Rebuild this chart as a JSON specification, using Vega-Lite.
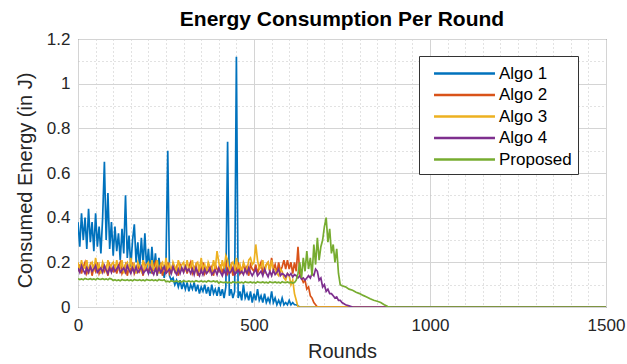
{
  "$schema": "https://vega.github.io/schema/vega-lite/v6.json",
  "width": 528,
  "height": 268,
  "autosize": {"type": "none"},
  "padding": {"left": 78, "top": 39, "right": 21, "bottom": 57},
  "background": "white",
  "config": {
    "font": "Liberation Sans",
    "view": {"stroke": "#404040", "strokeWidth": 1}
  },
  "title": {
    "text": "Energy Consumption Per Round",
    "font": "Liberation Sans",
    "fontSize": 21,
    "fontWeight": "bold",
    "color": "#000000",
    "anchor": "middle",
    "baseline": "alphabetic",
    "offset": 13,
    "dy": 30
  },
  "data": {
    "values": [
      {"r":0,"Algo 1":0.38,"Algo 2":0.16,"Algo 3":0.20,"Algo 4":0.175,"Proposed":0.127},
      {"r":5,"Algo 1":0.27,"Algo 2":0.19,"Algo 3":0.16,"Algo 4":0.155,"Proposed":0.123},
      {"r":10,"Algo 1":0.42,"Algo 2":0.15,"Algo 3":0.21,"Algo 4":0.185,"Proposed":0.126},
      {"r":15,"Algo 1":0.30,"Algo 2":0.18,"Algo 3":0.17,"Algo 4":0.165,"Proposed":0.122},
      {"r":20,"Algo 1":0.40,"Algo 2":0.20,"Algo 3":0.18,"Algo 4":0.150,"Proposed":0.128},
      {"r":25,"Algo 1":0.26,"Algo 2":0.15,"Algo 3":0.21,"Algo 4":0.175,"Proposed":0.125},
      {"r":30,"Algo 1":0.44,"Algo 2":0.17,"Algo 3":0.15,"Algo 4":0.155,"Proposed":0.124},
      {"r":35,"Algo 1":0.29,"Algo 2":0.19,"Algo 3":0.19,"Algo 4":0.180,"Proposed":0.127},
      {"r":40,"Algo 1":0.38,"Algo 2":0.14,"Algo 3":0.20,"Algo 4":0.160,"Proposed":0.123},
      {"r":45,"Algo 1":0.25,"Algo 2":0.18,"Algo 3":0.16,"Algo 4":0.170,"Proposed":0.126},
      {"r":50,"Algo 1":0.42,"Algo 2":0.16,"Algo 3":0.22,"Algo 4":0.185,"Proposed":0.122},
      {"r":55,"Algo 1":0.27,"Algo 2":0.20,"Algo 3":0.17,"Algo 4":0.155,"Proposed":0.128},
      {"r":60,"Algo 1":0.36,"Algo 2":0.15,"Algo 3":0.19,"Algo 4":0.165,"Proposed":0.125},
      {"r":65,"Algo 1":0.24,"Algo 2":0.17,"Algo 3":0.15,"Algo 4":0.175,"Proposed":0.124},
      {"r":70,"Algo 1":0.40,"Algo 2":0.19,"Algo 3":0.20,"Algo 4":0.155,"Proposed":0.127},
      {"r":75,"Algo 1":0.65,"Algo 2":0.16,"Algo 3":0.18,"Algo 4":0.185,"Proposed":0.123},
      {"r":80,"Algo 1":0.30,"Algo 2":0.18,"Algo 3":0.16,"Algo 4":0.165,"Proposed":0.126},
      {"r":85,"Algo 1":0.51,"Algo 2":0.14,"Algo 3":0.21,"Algo 4":0.150,"Proposed":0.122},
      {"r":90,"Algo 1":0.26,"Algo 2":0.19,"Algo 3":0.17,"Algo 4":0.175,"Proposed":0.128},
      {"r":95,"Algo 1":0.38,"Algo 2":0.17,"Algo 3":0.19,"Algo 4":0.155,"Proposed":0.125},
      {"r":100,"Algo 1":0.23,"Algo 2":0.16,"Algo 3":0.20,"Algo 4":0.180,"Proposed":0.119},
      {"r":105,"Algo 1":0.36,"Algo 2":0.19,"Algo 3":0.16,"Algo 4":0.160,"Proposed":0.122},
      {"r":110,"Algo 1":0.25,"Algo 2":0.15,"Algo 3":0.21,"Algo 4":0.170,"Proposed":0.118},
      {"r":115,"Algo 1":0.33,"Algo 2":0.18,"Algo 3":0.17,"Algo 4":0.185,"Proposed":0.121},
      {"r":120,"Algo 1":0.21,"Algo 2":0.20,"Algo 3":0.18,"Algo 4":0.155,"Proposed":0.117},
      {"r":125,"Algo 1":0.35,"Algo 2":0.15,"Algo 3":0.21,"Algo 4":0.165,"Proposed":0.123},
      {"r":130,"Algo 1":0.24,"Algo 2":0.17,"Algo 3":0.15,"Algo 4":0.175,"Proposed":0.120},
      {"r":135,"Algo 1":0.50,"Algo 2":0.19,"Algo 3":0.19,"Algo 4":0.155,"Proposed":0.119},
      {"r":140,"Algo 1":0.22,"Algo 2":0.14,"Algo 3":0.20,"Algo 4":0.185,"Proposed":0.122},
      {"r":145,"Algo 1":0.32,"Algo 2":0.18,"Algo 3":0.16,"Algo 4":0.165,"Proposed":0.118},
      {"r":150,"Algo 1":0.18,"Algo 2":0.16,"Algo 3":0.22,"Algo 4":0.150,"Proposed":0.121},
      {"r":155,"Algo 1":0.30,"Algo 2":0.20,"Algo 3":0.17,"Algo 4":0.175,"Proposed":0.117},
      {"r":160,"Algo 1":0.37,"Algo 2":0.15,"Algo 3":0.19,"Algo 4":0.155,"Proposed":0.123},
      {"r":165,"Algo 1":0.20,"Algo 2":0.17,"Algo 3":0.15,"Algo 4":0.180,"Proposed":0.120},
      {"r":170,"Algo 1":0.29,"Algo 2":0.19,"Algo 3":0.20,"Algo 4":0.155,"Proposed":0.119},
      {"r":175,"Algo 1":0.17,"Algo 2":0.16,"Algo 3":0.18,"Algo 4":0.165,"Proposed":0.122},
      {"r":180,"Algo 1":0.31,"Algo 2":0.18,"Algo 3":0.16,"Algo 4":0.180,"Proposed":0.118},
      {"r":185,"Algo 1":0.19,"Algo 2":0.14,"Algo 3":0.21,"Algo 4":0.150,"Proposed":0.121},
      {"r":190,"Algo 1":0.33,"Algo 2":0.19,"Algo 3":0.17,"Algo 4":0.160,"Proposed":0.117},
      {"r":195,"Algo 1":0.17,"Algo 2":0.17,"Algo 3":0.19,"Algo 4":0.170,"Proposed":0.123},
      {"r":200,"Algo 1":0.26,"Algo 2":0.16,"Algo 3":0.20,"Algo 4":0.150,"Proposed":0.120},
      {"r":205,"Algo 1":0.15,"Algo 2":0.19,"Algo 3":0.16,"Algo 4":0.180,"Proposed":0.119},
      {"r":210,"Algo 1":0.27,"Algo 2":0.15,"Algo 3":0.21,"Algo 4":0.160,"Proposed":0.122},
      {"r":215,"Algo 1":0.16,"Algo 2":0.18,"Algo 3":0.17,"Algo 4":0.145,"Proposed":0.118},
      {"r":220,"Algo 1":0.24,"Algo 2":0.20,"Algo 3":0.18,"Algo 4":0.170,"Proposed":0.121},
      {"r":225,"Algo 1":0.14,"Algo 2":0.15,"Algo 3":0.21,"Algo 4":0.150,"Proposed":0.117},
      {"r":230,"Algo 1":0.22,"Algo 2":0.17,"Algo 3":0.15,"Algo 4":0.175,"Proposed":0.123},
      {"r":235,"Algo 1":0.15,"Algo 2":0.19,"Algo 3":0.19,"Algo 4":0.155,"Proposed":0.120},
      {"r":240,"Algo 1":0.18,"Algo 2":0.14,"Algo 3":0.20,"Algo 4":0.165,"Proposed":0.119},
      {"r":245,"Algo 1":0.13,"Algo 2":0.18,"Algo 3":0.16,"Algo 4":0.180,"Proposed":0.122},
      {"r":250,"Algo 1":0.20,"Algo 2":0.16,"Algo 3":0.22,"Algo 4":0.150,"Proposed":0.113},
      {"r":255,"Algo 1":0.70,"Algo 2":0.20,"Algo 3":0.17,"Algo 4":0.160,"Proposed":0.116},
      {"r":260,"Algo 1":0.14,"Algo 2":0.15,"Algo 3":0.19,"Algo 4":0.170,"Proposed":0.112},
      {"r":265,"Algo 1":0.12,"Algo 2":0.17,"Algo 3":0.15,"Algo 4":0.150,"Proposed":0.118},
      {"r":270,"Algo 1":0.13,"Algo 2":0.19,"Algo 3":0.20,"Algo 4":0.180,"Proposed":0.115},
      {"r":275,"Algo 1":0.10,"Algo 2":0.16,"Algo 3":0.18,"Algo 4":0.160,"Proposed":0.114},
      {"r":280,"Algo 1":0.12,"Algo 2":0.18,"Algo 3":0.16,"Algo 4":0.145,"Proposed":0.117},
      {"r":285,"Algo 1":0.09,"Algo 2":0.14,"Algo 3":0.21,"Algo 4":0.170,"Proposed":0.113},
      {"r":290,"Algo 1":0.12,"Algo 2":0.19,"Algo 3":0.17,"Algo 4":0.150,"Proposed":0.116},
      {"r":295,"Algo 1":0.08,"Algo 2":0.17,"Algo 3":0.19,"Algo 4":0.175,"Proposed":0.112},
      {"r":300,"Algo 1":0.11,"Algo 2":0.16,"Algo 3":0.20,"Algo 4":0.155,"Proposed":0.118},
      {"r":305,"Algo 1":0.08,"Algo 2":0.19,"Algo 3":0.16,"Algo 4":0.180,"Proposed":0.115},
      {"r":310,"Algo 1":0.11,"Algo 2":0.15,"Algo 3":0.21,"Algo 4":0.160,"Proposed":0.114},
      {"r":315,"Algo 1":0.07,"Algo 2":0.18,"Algo 3":0.17,"Algo 4":0.170,"Proposed":0.117},
      {"r":320,"Algo 1":0.10,"Algo 2":0.20,"Algo 3":0.18,"Algo 4":0.150,"Proposed":0.113},
      {"r":325,"Algo 1":0.08,"Algo 2":0.15,"Algo 3":0.21,"Algo 4":0.170,"Proposed":0.116},
      {"r":330,"Algo 1":0.11,"Algo 2":0.17,"Algo 3":0.15,"Algo 4":0.145,"Proposed":0.112},
      {"r":335,"Algo 1":0.07,"Algo 2":0.19,"Algo 3":0.19,"Algo 4":0.175,"Proposed":0.118},
      {"r":340,"Algo 1":0.10,"Algo 2":0.14,"Algo 3":0.20,"Algo 4":0.155,"Proposed":0.115},
      {"r":345,"Algo 1":0.06,"Algo 2":0.18,"Algo 3":0.16,"Algo 4":0.140,"Proposed":0.114},
      {"r":350,"Algo 1":0.09,"Algo 2":0.16,"Algo 3":0.22,"Algo 4":0.165,"Proposed":0.117},
      {"r":355,"Algo 1":0.07,"Algo 2":0.20,"Algo 3":0.17,"Algo 4":0.145,"Proposed":0.113},
      {"r":360,"Algo 1":0.10,"Algo 2":0.15,"Algo 3":0.19,"Algo 4":0.170,"Proposed":0.116},
      {"r":365,"Algo 1":0.06,"Algo 2":0.17,"Algo 3":0.15,"Algo 4":0.150,"Proposed":0.112},
      {"r":370,"Algo 1":0.09,"Algo 2":0.19,"Algo 3":0.20,"Algo 4":0.160,"Proposed":0.118},
      {"r":375,"Algo 1":0.05,"Algo 2":0.16,"Algo 3":0.18,"Algo 4":0.175,"Proposed":0.115},
      {"r":380,"Algo 1":0.10,"Algo 2":0.18,"Algo 3":0.16,"Algo 4":0.145,"Proposed":0.114},
      {"r":385,"Algo 1":0.06,"Algo 2":0.14,"Algo 3":0.21,"Algo 4":0.155,"Proposed":0.117},
      {"r":390,"Algo 1":0.08,"Algo 2":0.19,"Algo 3":0.17,"Algo 4":0.165,"Proposed":0.113},
      {"r":395,"Algo 1":0.05,"Algo 2":0.17,"Algo 3":0.25,"Algo 4":0.145,"Proposed":0.116},
      {"r":400,"Algo 1":0.09,"Algo 2":0.16,"Algo 3":0.20,"Algo 4":0.175,"Proposed":0.107},
      {"r":405,"Algo 1":0.05,"Algo 2":0.19,"Algo 3":0.16,"Algo 4":0.155,"Proposed":0.113},
      {"r":410,"Algo 1":0.08,"Algo 2":0.15,"Algo 3":0.21,"Algo 4":0.140,"Proposed":0.110},
      {"r":415,"Algo 1":0.04,"Algo 2":0.18,"Algo 3":0.17,"Algo 4":0.165,"Proposed":0.109},
      {"r":420,"Algo 1":0.09,"Algo 2":0.20,"Algo 3":0.23,"Algo 4":0.145,"Proposed":0.112},
      {"r":425,"Algo 1":0.74,"Algo 2":0.15,"Algo 3":0.21,"Algo 4":0.170,"Proposed":0.108},
      {"r":430,"Algo 1":0.05,"Algo 2":0.17,"Algo 3":0.15,"Algo 4":0.150,"Proposed":0.111},
      {"r":435,"Algo 1":0.08,"Algo 2":0.19,"Algo 3":0.19,"Algo 4":0.160,"Proposed":0.107},
      {"r":440,"Algo 1":0.04,"Algo 2":0.14,"Algo 3":0.20,"Algo 4":0.175,"Proposed":0.113},
      {"r":445,"Algo 1":0.07,"Algo 2":0.18,"Algo 3":0.16,"Algo 4":0.145,"Proposed":0.110},
      {"r":450,"Algo 1":1.12,"Algo 2":0.16,"Algo 3":0.22,"Algo 4":0.155,"Proposed":0.109},
      {"r":455,"Algo 1":0.04,"Algo 2":0.20,"Algo 3":0.17,"Algo 4":0.165,"Proposed":0.112},
      {"r":460,"Algo 1":0.07,"Algo 2":0.15,"Algo 3":0.19,"Algo 4":0.150,"Proposed":0.108},
      {"r":465,"Algo 1":0.03,"Algo 2":0.17,"Algo 3":0.15,"Algo 4":0.160,"Proposed":0.111},
      {"r":470,"Algo 1":0.10,"Algo 2":0.19,"Algo 3":0.20,"Algo 4":0.145,"Proposed":0.107},
      {"r":475,"Algo 1":0.04,"Algo 2":0.16,"Algo 3":0.18,"Algo 4":0.170,"Proposed":0.113},
      {"r":480,"Algo 1":0.06,"Algo 2":0.18,"Algo 3":0.16,"Algo 4":0.150,"Proposed":0.110},
      {"r":485,"Algo 1":0.03,"Algo 2":0.14,"Algo 3":0.21,"Algo 4":0.175,"Proposed":0.109},
      {"r":490,"Algo 1":0.07,"Algo 2":0.19,"Algo 3":0.22,"Algo 4":0.155,"Proposed":0.112},
      {"r":495,"Algo 1":0.02,"Algo 2":0.17,"Algo 3":0.19,"Algo 4":0.140,"Proposed":0.108},
      {"r":500,"Algo 1":0.06,"Algo 2":0.16,"Algo 3":0.20,"Algo 4":0.155,"Proposed":0.111},
      {"r":505,"Algo 1":0.03,"Algo 2":0.19,"Algo 3":0.28,"Algo 4":0.170,"Proposed":0.107},
      {"r":510,"Algo 1":0.08,"Algo 2":0.15,"Algo 3":0.21,"Algo 4":0.140,"Proposed":0.113},
      {"r":515,"Algo 1":0.03,"Algo 2":0.18,"Algo 3":0.17,"Algo 4":0.150,"Proposed":0.110},
      {"r":520,"Algo 1":0.05,"Algo 2":0.20,"Algo 3":0.18,"Algo 4":0.160,"Proposed":0.109},
      {"r":525,"Algo 1":0.02,"Algo 2":0.15,"Algo 3":0.21,"Algo 4":0.140,"Proposed":0.112},
      {"r":530,"Algo 1":0.06,"Algo 2":0.17,"Algo 3":0.15,"Algo 4":0.170,"Proposed":0.108},
      {"r":535,"Algo 1":0.02,"Algo 2":0.19,"Algo 3":0.19,"Algo 4":0.150,"Proposed":0.111},
      {"r":540,"Algo 1":0.04,"Algo 2":0.20,"Algo 3":0.20,"Algo 4":0.135,"Proposed":0.107},
      {"r":545,"Algo 1":0.02,"Algo 2":0.16,"Algo 3":0.16,"Algo 4":0.160,"Proposed":0.113},
      {"r":550,"Algo 1":0.07,"Algo 2":0.22,"Algo 3":0.21,"Algo 4":0.140,"Proposed":0.110},
      {"r":555,"Algo 1":0.02,"Algo 2":0.17,"Algo 3":0.17,"Algo 4":0.165,"Proposed":0.109},
      {"r":560,"Algo 1":0.04,"Algo 2":0.19,"Algo 3":0.17,"Algo 4":0.145,"Proposed":0.112},
      {"r":565,"Algo 1":0.01,"Algo 2":0.15,"Algo 3":0.15,"Algo 4":0.155,"Proposed":0.108},
      {"r":570,"Algo 1":0.03,"Algo 2":0.20,"Algo 3":0.14,"Algo 4":0.170,"Proposed":0.111},
      {"r":575,"Algo 1":0.01,"Algo 2":0.16,"Algo 3":0.17,"Algo 4":0.140,"Proposed":0.107},
      {"r":580,"Algo 1":0.04,"Algo 2":0.18,"Algo 3":0.16,"Algo 4":0.150,"Proposed":0.113},
      {"r":585,"Algo 1":0.01,"Algo 2":0.21,"Algo 3":0.13,"Algo 4":0.145,"Proposed":0.110},
      {"r":590,"Algo 1":0.02,"Algo 2":0.17,"Algo 3":0.12,"Algo 4":0.135,"Proposed":0.109},
      {"r":595,"Algo 1":0.01,"Algo 2":0.21,"Algo 3":0.15,"Algo 4":0.150,"Proposed":0.112},
      {"r":600,"Algo 1":0.03,"Algo 2":0.17,"Algo 3":0.14,"Algo 4":0.140,"Proposed":0.108},
      {"r":605,"Algo 1":0.01,"Algo 2":0.20,"Algo 3":0.10,"Algo 4":0.150,"Proposed":0.111},
      {"r":610,"Algo 1":0.02,"Algo 2":0.15,"Algo 3":0.12,"Algo 4":0.135,"Proposed":0.107},
      {"r":615,"Algo 1":0.01,"Algo 2":0.20,"Algo 3":0.06,"Algo 4":0.145,"Proposed":0.110},
      {"r":620,"Algo 1":0.01,"Algo 2":0.16,"Algo 3":0.03,"Algo 4":0.140,"Proposed":0.120},
      {"r":625,"Algo 1":0.005,"Algo 2":0.27,"Algo 3":0,"Algo 4":0.130,"Proposed":0.150},
      {"r":630,"Algo 1":0,"Algo 2":0.15,"Algo 3":0,"Algo 4":0.140,"Proposed":0.200},
      {"r":635,"Algo 1":0,"Algo 2":0.13,"Algo 3":0,"Algo 4":0.125,"Proposed":0.130},
      {"r":640,"Algo 1":0,"Algo 2":0.11,"Algo 3":0,"Algo 4":0.130,"Proposed":0.220},
      {"r":645,"Algo 1":0,"Algo 2":0.12,"Algo 3":0,"Algo 4":0.120,"Proposed":0.160},
      {"r":650,"Algo 1":0,"Algo 2":0.08,"Algo 3":0,"Algo 4":0.130,"Proposed":0.250},
      {"r":655,"Algo 1":0,"Algo 2":0.09,"Algo 3":0,"Algo 4":0.140,"Proposed":0.170},
      {"r":660,"Algo 1":0,"Algo 2":0.05,"Algo 3":0,"Algo 4":0.130,"Proposed":0.220},
      {"r":665,"Algo 1":0,"Algo 2":0.04,"Algo 3":0,"Algo 4":0.150,"Proposed":0.140},
      {"r":670,"Algo 1":0,"Algo 2":0.02,"Algo 3":0,"Algo 4":0.140,"Proposed":0.280},
      {"r":675,"Algo 1":0,"Algo 2":0.01,"Algo 3":0,"Algo 4":0.170,"Proposed":0.190},
      {"r":680,"Algo 1":0,"Algo 2":0,"Algo 3":0,"Algo 4":0.160,"Proposed":0.310},
      {"r":685,"Algo 1":0,"Algo 2":0,"Algo 3":0,"Algo 4":0.120,"Proposed":0.210},
      {"r":690,"Algo 1":0,"Algo 2":0,"Algo 3":0,"Algo 4":0.130,"Proposed":0.270},
      {"r":695,"Algo 1":0,"Algo 2":0,"Algo 3":0,"Algo 4":0.090,"Proposed":0.300},
      {"r":700,"Algo 1":0,"Algo 2":0,"Algo 3":0,"Algo 4":0.100,"Proposed":0.360},
      {"r":705,"Algo 1":0,"Algo 2":0,"Algo 3":0,"Algo 4":0.070,"Proposed":0.400},
      {"r":710,"Algo 1":0,"Algo 2":0,"Algo 3":0,"Algo 4":0.080,"Proposed":0.290},
      {"r":715,"Algo 1":0,"Algo 2":0,"Algo 3":0,"Algo 4":0.060,"Proposed":0.350},
      {"r":720,"Algo 1":0,"Algo 2":0,"Algo 3":0,"Algo 4":0.060,"Proposed":0.240},
      {"r":725,"Algo 1":0,"Algo 2":0,"Algo 3":0,"Algo 4":0.050,"Proposed":0.280},
      {"r":730,"Algo 1":0,"Algo 2":0,"Algo 3":0,"Algo 4":0.040,"Proposed":0.200},
      {"r":735,"Algo 1":0,"Algo 2":0,"Algo 3":0,"Algo 4":0.045,"Proposed":0.260},
      {"r":740,"Algo 1":0,"Algo 2":0,"Algo 3":0,"Algo 4":0.030,"Proposed":0.150},
      {"r":745,"Algo 1":0,"Algo 2":0,"Algo 3":0,"Algo 4":0.030,"Proposed":0.100},
      {"r":750,"Algo 1":0,"Algo 2":0,"Algo 3":0,"Algo 4":0.020,"Proposed":0.095},
      {"r":760,"Algo 1":0,"Algo 2":0,"Algo 3":0,"Algo 4":0.010,"Proposed":0.090},
      {"r":770,"Algo 1":0,"Algo 2":0,"Algo 3":0,"Algo 4":0.005,"Proposed":0.080},
      {"r":780,"Algo 1":0,"Algo 2":0,"Algo 3":0,"Algo 4":0,"Proposed":0.075},
      {"r":790,"Algo 1":0,"Algo 2":0,"Algo 3":0,"Algo 4":0,"Proposed":0.066},
      {"r":800,"Algo 1":0,"Algo 2":0,"Algo 3":0,"Algo 4":0,"Proposed":0.060},
      {"r":810,"Algo 1":0,"Algo 2":0,"Algo 3":0,"Algo 4":0,"Proposed":0.052},
      {"r":820,"Algo 1":0,"Algo 2":0,"Algo 3":0,"Algo 4":0,"Proposed":0.045},
      {"r":830,"Algo 1":0,"Algo 2":0,"Algo 3":0,"Algo 4":0,"Proposed":0.037},
      {"r":840,"Algo 1":0,"Algo 2":0,"Algo 3":0,"Algo 4":0,"Proposed":0.030},
      {"r":850,"Algo 1":0,"Algo 2":0,"Algo 3":0,"Algo 4":0,"Proposed":0.026},
      {"r":860,"Algo 1":0,"Algo 2":0,"Algo 3":0,"Algo 4":0,"Proposed":0.020},
      {"r":870,"Algo 1":0,"Algo 2":0,"Algo 3":0,"Algo 4":0,"Proposed":0.010},
      {"r":880,"Algo 1":0,"Algo 2":0,"Algo 3":0,"Algo 4":0,"Proposed":0.002},
      {"r":890,"Algo 1":0,"Algo 2":0,"Algo 3":0,"Algo 4":0,"Proposed":0},
      {"r":1500,"Algo 1":0,"Algo 2":0,"Algo 3":0,"Algo 4":0,"Proposed":0}
    ]
  },
  "transform": [
    {"fold": ["Algo 1", "Algo 2", "Algo 3", "Algo 4", "Proposed"], "as": ["series", "v"]}
  ],
  "mark": {"type": "line", "strokeWidth": 1.7, "clip": true},
  "encoding": {
    "x": {
      "field": "r",
      "type": "quantitative",
      "scale": {"domain": [0, 1500], "nice": false},
      "axis": {
        "title": "Rounds",
        "titleFont": "Liberation Sans",
        "titleFontSize": 20,
        "titleFontWeight": "normal",
        "titleColor": "#262626",
        "titleBaseline": "alphabetic",
        "titleY": 50,
        "values": [0,50,100,150,200,250,300,350,400,450,500,550,600,650,700,750,800,850,900,950,1000,1050,1100,1150,1200,1250,1300,1350,1400,1450,1500],
        "labelExpr": "datum.value % 500 === 0 ? format(datum.value, 'd') : ''",
        "labelFont": "Liberation Sans",
        "labelFontSize": 17,
        "labelColor": "#262626",
        "labelPadding": 10,
        "labelFlush": false,
        "labelOverlap": false,
        "ticks": false,
        "domain": false,
        "grid": true,
        "gridColor": {"condition": {"test": "datum.value % 500 === 0", "value": "#d4d4d4"}, "value": "#c4c4c4"},
        "gridDash": {"condition": {"test": "datum.value % 500 === 0", "value": []}, "value": [1, 3]},
        "gridWidth": 1
      }
    },
    "y": {
      "field": "v",
      "type": "quantitative",
      "scale": {"domain": [0, 1.2], "nice": false},
      "axis": {
        "title": "Consumed Energy (in J)",
        "titleFont": "Liberation Sans",
        "titleFontSize": 20,
        "titleFontWeight": "normal",
        "titleColor": "#262626",
        "titleBaseline": "alphabetic",
        "titleX": -47,
        "titleY": 141,
        "values": [0,0.1,0.2,0.3,0.4,0.5,0.6,0.7,0.8,0.9,1,1.1,1.2],
        "labelExpr": "round(datum.value*10) % 2 === 0 ? format(datum.value, '~g') : ''",
        "labelFont": "Liberation Sans",
        "labelFontSize": 17,
        "labelColor": "#262626",
        "labelPadding": 8,
        "labelOverlap": false,
        "ticks": false,
        "domain": false,
        "grid": true,
        "gridColor": {"condition": {"test": "round(datum.value*10) % 2 === 0", "value": "#d4d4d4"}, "value": "#c4c4c4"},
        "gridDash": {"condition": {"test": "round(datum.value*10) % 2 === 0", "value": []}, "value": [1, 3]},
        "gridWidth": 1
      }
    },
    "color": {
      "field": "series",
      "type": "nominal",
      "scale": {
        "domain": ["Algo 1", "Algo 2", "Algo 3", "Algo 4", "Proposed"],
        "range": ["#0072BD", "#D95319", "#EDB120", "#7E2F8E", "#77AC30"]
      },
      "legend": {
        "orient": "none",
        "legendX": 341,
        "legendY": 17,
        "title": null,
        "symbolType": "M-3,0H3",
        "symbolSize": 413,
        "symbolStrokeWidth": 2.5,
        "symbolOffset": 28,
        "labelFont": "Liberation Sans",
        "labelFontSize": 17,
        "labelColor": "#000000",
        "labelOffset": 23,
        "padding": 6,
        "rowPadding": 1.5,
        "strokeColor": "#333333",
        "fillColor": "#ffffff",
        "cornerRadius": 0
      }
    }
  }
}
